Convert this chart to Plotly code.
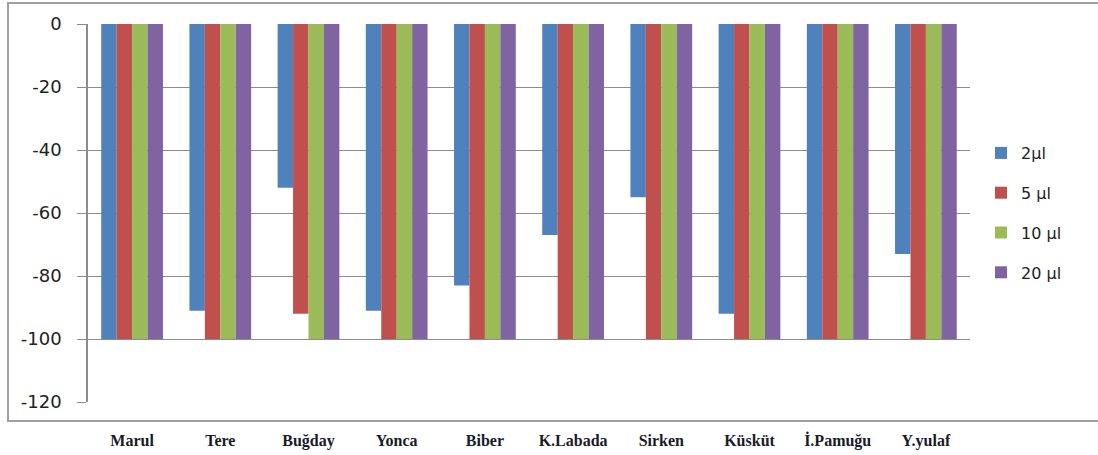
import plotly.graph_objects as go

categories = ["Marul", "Tere", "Buğday", "Yonca", "Biber", "K.Labada", "Sirken", "Küsküt", "İ.Pamuğu", "Y.yulaf"]
series_names = ["2µl", "5 µl", "10 µl", "20 µl"]
v2 = [-100, -91, -52, -91, -83, -67, -55, -92, -100, -73]
v5 = [-100, -100, -92, -100, -100, -100, -100, -100, -100, -100]
v10 = [-100, -100, -100, -100, -100, -100, -100, -100, -100, -100]
v20 = [-100, -100, -100, -100, -100, -100, -100, -100, -100, -100]
y_ticks = [0, -20, -40, -60, -80, -100, -120]

colors = ["#4F81BD", "#C0504D", "#9BBB59", "#8064A2"]

fig = go.Figure()
for i, (name, vals) in enumerate(zip(series_names, [v2, v5, v10, v20])):
    fig.add_trace(go.Bar(
        x=categories, y=vals, name=name,
        marker=dict(color=colors[i], line=dict(width=0)),
        legendgroup=f"g{i}",
    ))

fig.update_layout(
    width=1098, height=455,
    margin=dict(l=88, r=128, t=24, b=53),
    plot_bgcolor="white", paper_bgcolor="white",
    barmode="group", bargap=0.3, bargroupgap=0,
    font=dict(family="DejaVu Sans", size=16, color="#222222"),
    legend=dict(
        x=1.0125, y=0.5, xanchor="left", yanchor="middle",
        traceorder="grouped", tracegroupgap=16,
        font=dict(family="DejaVu Sans", size=16, color="#222222"),
        itemwidth=30,
    ),
    xaxis=dict(
        showgrid=False, showline=False, ticks="", automargin=False,
        tickfont=dict(family="Liberation Serif", size=16, color="#1a1a2a", weight="bold"),
        ticklabelstandoff=27,
    ),
    yaxis=dict(
        range=[-120, 0], tickvals=y_ticks, ticktext=[str(t) for t in y_ticks],
        showgrid=True, gridcolor="#8c8c8c", gridwidth=1.3,
        showline=True, linecolor="#8c8c8c", linewidth=1.5,
        ticks="outside", ticklen=9, tickcolor="#8c8c8c", tickwidth=1.3,
        zeroline=False, automargin=False,
        tickfont=dict(family="DejaVu Sans", size=18, color="#222222"),
        ticklabelstandoff=12,
    ),
    shapes=[dict(
        type="rect", xref="paper", yref="paper",
        x0=-0.0907, x1=1.15, y0=-0.0503, y1=1.0556,
        line=dict(color="#a0a0a0", width=2), fillcolor="rgba(0,0,0,0)", layer="below",
    )],
)

fig.write_html(
    "out.html",
    config={"displayModeBar": False},
    post_script="document.body.style.margin='0';document.body.style.overflow='hidden';",
)
